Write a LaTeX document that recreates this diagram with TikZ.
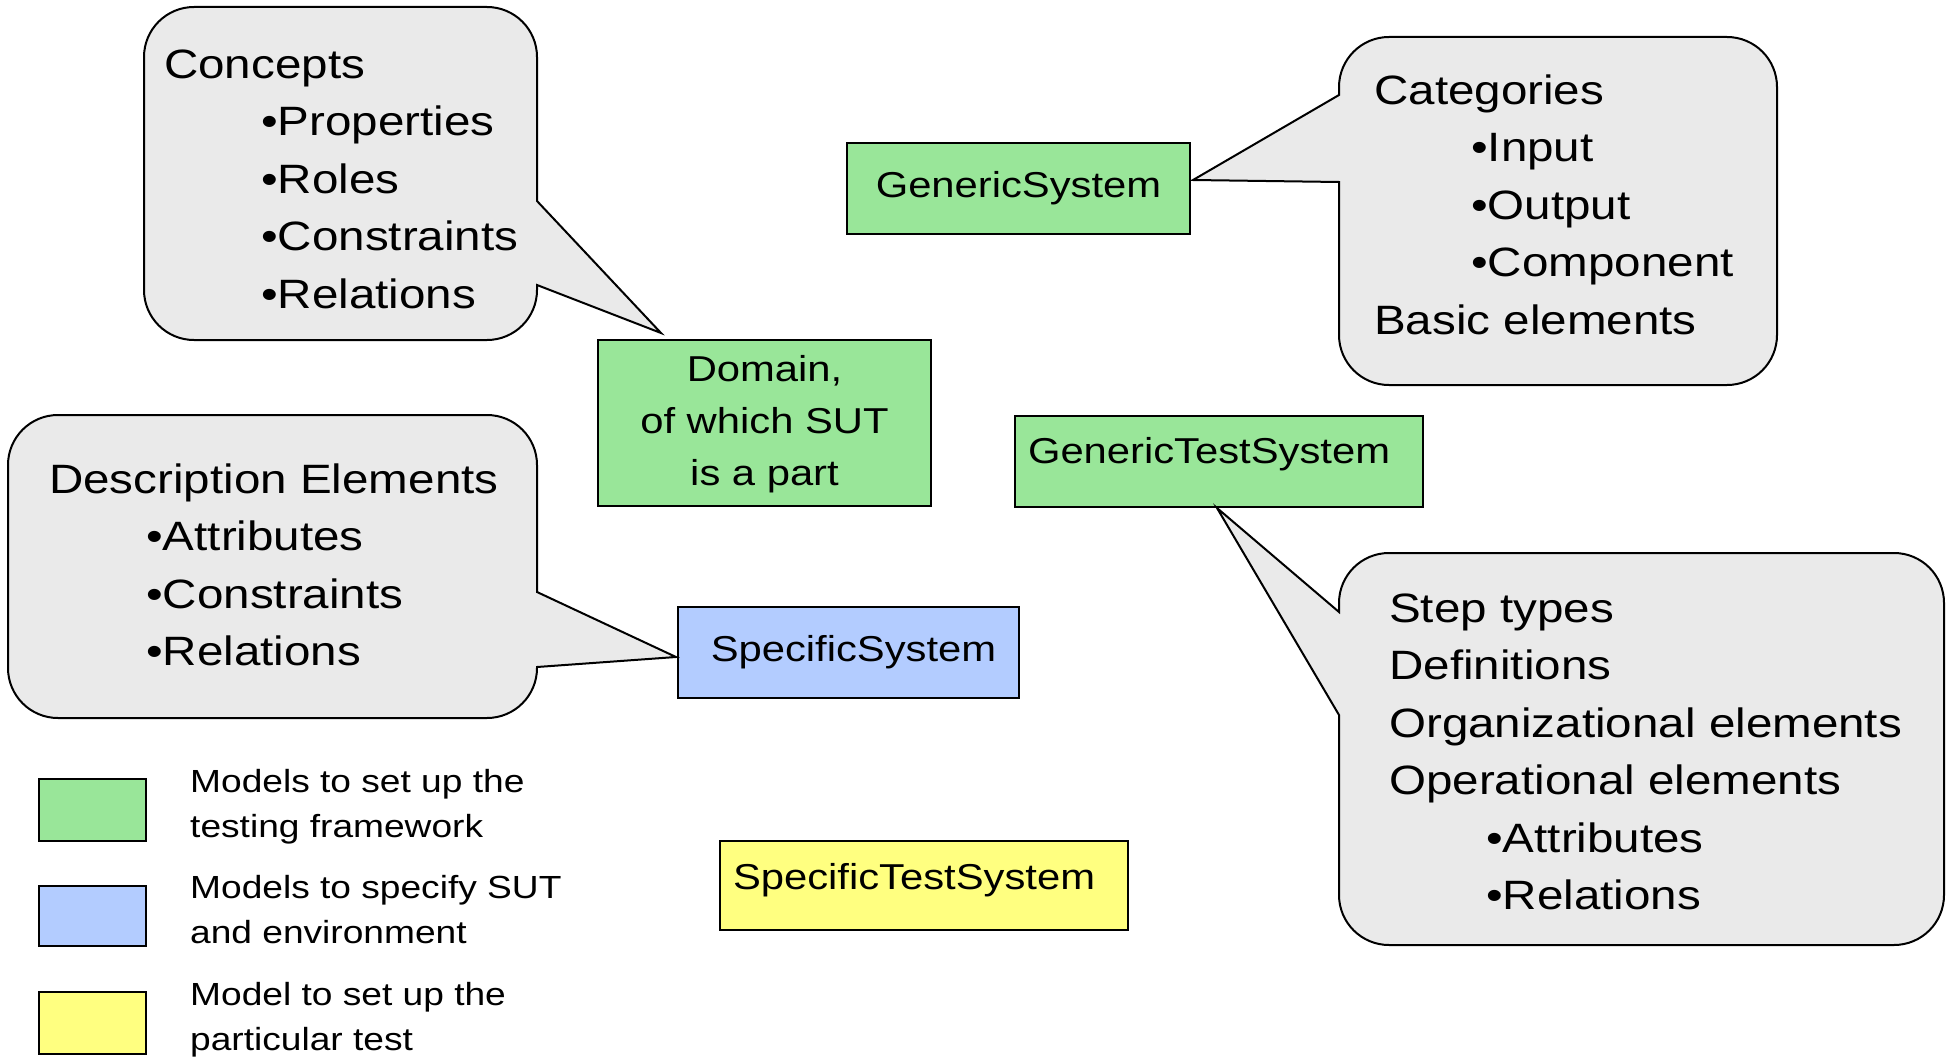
\documentclass[tikz,border=0pt]{standalone}
\usepackage{fontspec}
\setmainfont{Liberation Sans}[FakeStretch=1.16]
\usetikzlibrary{calc}

\definecolor{boxgreen}{RGB}{153,230,153}
\definecolor{boxblue}{RGB}{179,204,255}
\definecolor{boxyellow}{RGB}{255,255,128}
\definecolor{bubblegray}{RGB}{234,234,234}

\newcommand\bubblefont{\fontsize{41}{57.5}\selectfont}
\newcommand\modelfont{\fontsize{36}{52}\selectfont}
\newcommand\keyfont{\fontsize{32}{45}\selectfont}

\tikzset{
  model/.style={draw=black, line width=2pt, inner sep=0pt, font=\modelfont},
  modeltop/.style={model, anchor=north west, inner xsep=13pt, align=left},
  bubble/.style={draw=black, fill=bubblegray, line width=2pt, line join=miter},
  bubbletext/.style={anchor=base west, inner sep=0pt, font=\bubblefont},
  keybox/.style={draw=black, line width=2pt, anchor=north west,
                 minimum width=107pt, minimum height=62pt, inner sep=0pt},
  keytext/.style={anchor=base west, inner sep=0pt, font=\keyfont},
}

\begin{document}
\begin{tikzpicture}[x=1pt, y=-1pt]
  \useasboundingbox[fill=white] (0,0) rectangle (1948,1057);

  % model boxes
  \node[model, fill=boxgreen, minimum width=343pt, minimum height=91pt]
    (gs) at (1018.5,188.5) {GenericSystem};
  \node[model, fill=boxgreen, minimum width=333pt, minimum height=166pt]
    (dom) at (764.5,423) {\begin{tabular}{@{}c@{}}Domain,\\of which SUT\\is a part\end{tabular}};
  \node[model, fill=boxblue, minimum width=341pt, minimum height=91pt]
    (ss) at (848.5,652.5) {\hspace*{10pt}SpecificSystem};
  \node[modeltop, fill=boxgreen, text width=382pt, text height=47pt, text depth=44pt]
    (gts) at (1014,415) {GenericTestSystem};
  \node[modeltop, fill=boxyellow, text width=382pt, text height=48pt, text depth=41pt]
    (sts) at (719,840) {SpecificTestSystem};

  % tips of the callout wedges
  \coordinate (tipC) at ($(dom.north west)+(64,-6)$);
  \coordinate (tipG) at ($(gs.east)+(2,-8.5)$);
  \coordinate (tipS) at ($(ss.west)+(-1,4.5)$);
  \coordinate (tipT) at ($(gts.south)+(-2,0)$);

  % callout: concepts
  \path[bubble] (194,7) -- (487,7) arc[start angle=-90, end angle=0, radius=50]
    -- (537,201) -- (tipC) -- (537,285) -- (537,290)
    arc[start angle=0, end angle=90, radius=50] -- (194,340)
    arc[start angle=90, end angle=180, radius=50] -- (144,57)
    arc[start angle=180, end angle=270, radius=50] -- cycle;
  \node[bubbletext] (concepts) at (164,78) {\begin{tabular}[t]{@{}l@{}}
    Concepts\\
    \hspace*{97pt}•Properties\\
    \hspace*{97pt}•Roles\\
    \hspace*{97pt}•Constraints\\
    \hspace*{97pt}•Relations\end{tabular}};

  % callout: categories
  \path[bubble] (1389,37) -- (1727,37) arc[start angle=-90, end angle=0, radius=50]
    -- (1777,335) arc[start angle=0, end angle=90, radius=50]
    -- (1389,385) arc[start angle=90, end angle=180, radius=50]
    -- (1339,182) -- (tipG) -- (1339,95) -- (1339,87)
    arc[start angle=180, end angle=270, radius=50] -- cycle;
  \node[bubbletext] (categories) at (1374,104) {\begin{tabular}[t]{@{}l@{}}
    Categories\\
    \hspace*{97pt}•Input\\
    \hspace*{97pt}•Output\\
    \hspace*{97pt}•Component\\
    Basic elements\end{tabular}};

  % callout: description elements
  \path[bubble] (58,415) -- (487,415) arc[start angle=-90, end angle=0, radius=50]
    -- (537,592) -- (tipS) -- (537,667) -- (537,668)
    arc[start angle=0, end angle=90, radius=50] -- (58,718)
    arc[start angle=90, end angle=180, radius=50] -- (8,465)
    arc[start angle=180, end angle=270, radius=50] -- cycle;
  \node[bubbletext] (description) at (49,493) {\begin{tabular}[t]{@{}l@{}}
    Description Elements\\
    \hspace*{97pt}•Attributes\\
    \hspace*{97pt}•Constraints\\
    \hspace*{97pt}•Relations\end{tabular}};

  % callout: step types
  \path[bubble] (1389,553) -- (1894,553) arc[start angle=-90, end angle=0, radius=50]
    -- (1944,895) arc[start angle=0, end angle=90, radius=50]
    -- (1389,945) arc[start angle=90, end angle=180, radius=50]
    -- (1339,715) -- (tipT) -- (1339,612) -- (1339,603)
    arc[start angle=180, end angle=270, radius=50] -- cycle;
  \node[bubbletext] (steps) at (1389,622) {\begin{tabular}[t]{@{}l@{}}
    Step types\\
    Definitions\\
    Organizational elements\\
    Operational elements\\
    \hspace*{97pt}•Attributes\\
    \hspace*{97pt}•Relations\end{tabular}};

  % legend
  \node[keybox, fill=boxgreen] (kgreen) at (38,778) {};
  \node[keybox, fill=boxblue, minimum height=60pt] (kblue) at (38,885) {};
  \node[keybox, fill=boxyellow] (kyellow) at (38,991) {};
  \node[keytext] (lgreen) at (190,792) {\begin{tabular}[t]{@{}l@{}}Models to set up the\\testing framework\end{tabular}};
  \node[keytext] (lblue) at (190,898) {\begin{tabular}[t]{@{}l@{}}Models to specify SUT\\and environment\end{tabular}};
  \node[keytext] (lyellow) at (190,1005) {\begin{tabular}[t]{@{}l@{}}Model to set up the\\particular test\end{tabular}};
\end{tikzpicture}
\end{document}
